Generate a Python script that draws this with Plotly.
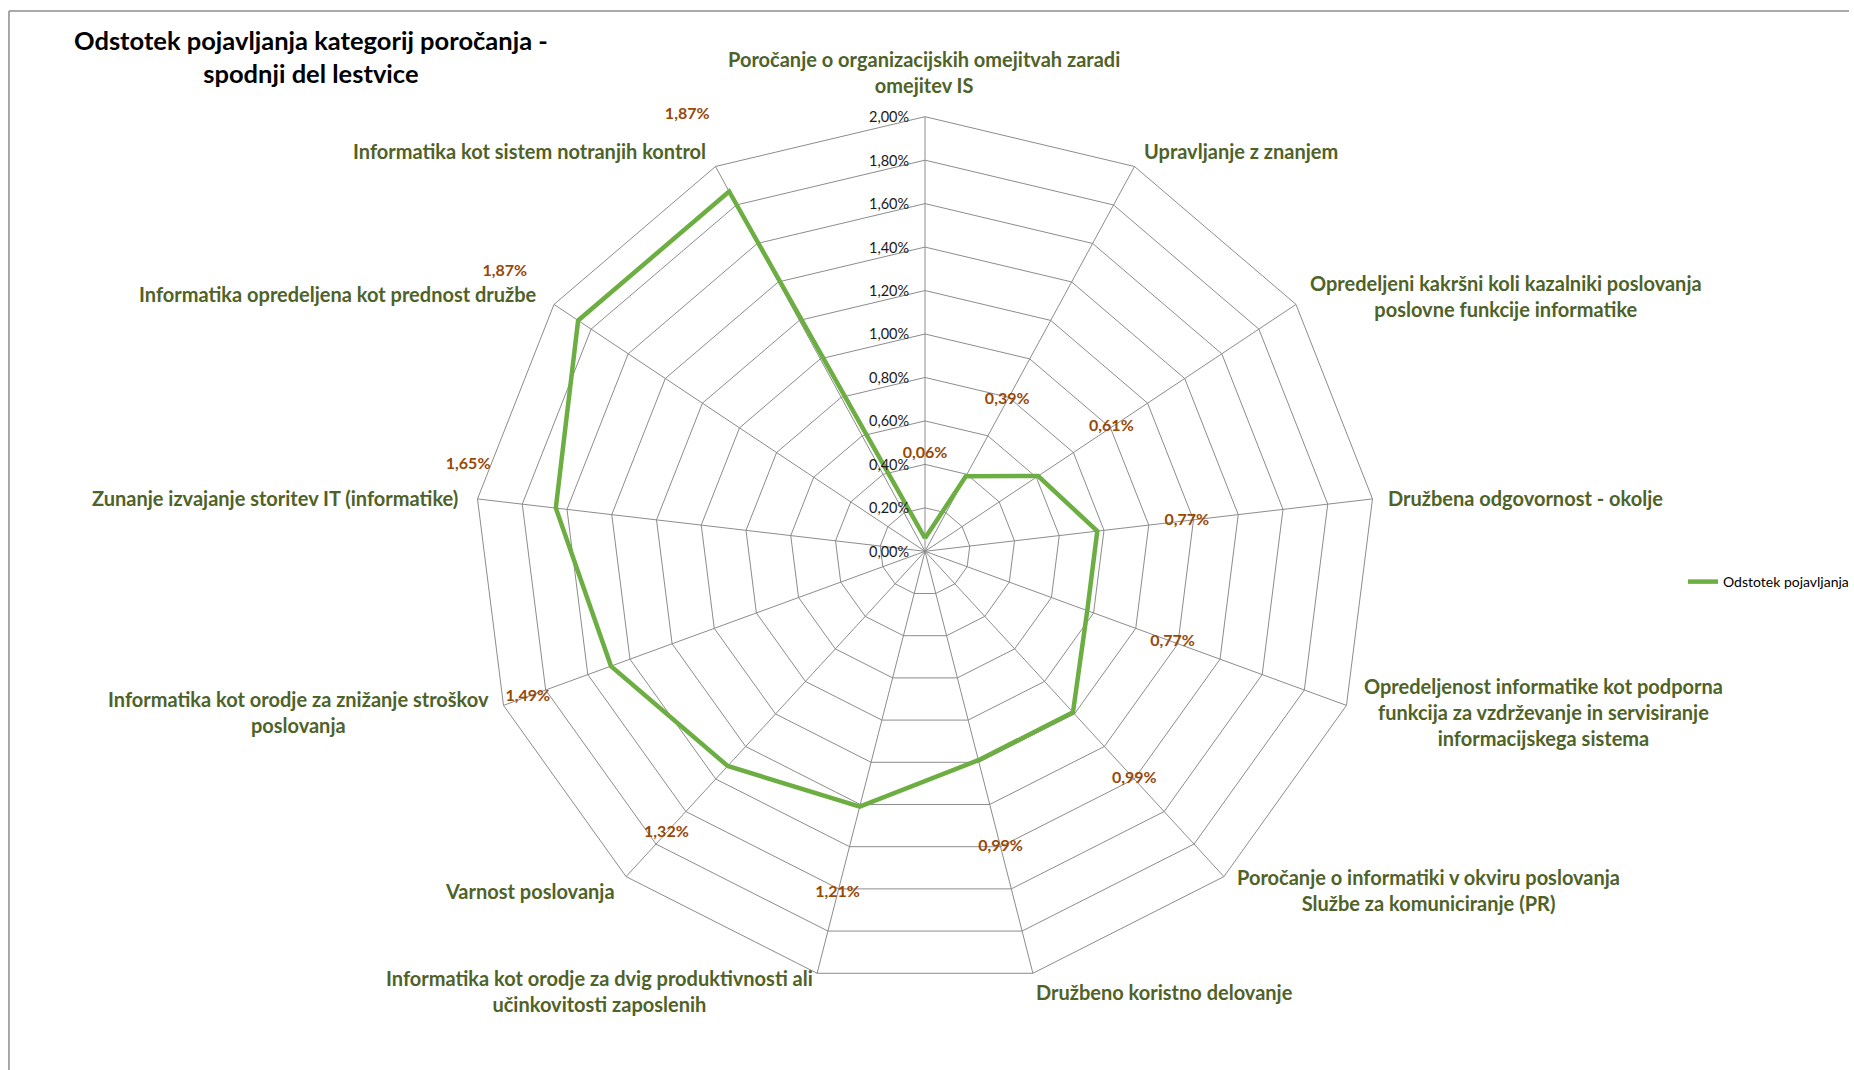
import math
import plotly.graph_objects as go

# ---------------- data ----------------
categories = [
    "Poročanje o organizacijskih omejitvah zaradi omejitev IS",
    "Upravljanje z znanjem",
    "Opredeljeni kakršni koli kazalniki poslovanja poslovne funkcije informatike",
    "Družbena odgovornost - okolje",
    "Opredeljenost informatike kot podporna funkcija za vzdrževanje in servisiranje informacijskega sistema",
    "Poročanje o informatiki v okviru poslovanja Službe za komuniciranje (PR)",
    "Družbeno koristno delovanje",
    "Informatika kot orodje za dvig produktivnosti ali učinkovitosti zaposlenih",
    "Varnost poslovanja",
    "Informatika kot orodje za znižanje stroškov poslovanja",
    "Zunanje izvajanje storitev IT (informatike)",
    "Informatika opredeljena kot prednost družbe",
    "Informatika kot sistem notranjih kontrol",
]
category_labels = [
    "Poročanje o organizacijskih omejitvah zaradi<br>omejitev IS",
    "Upravljanje z znanjem",
    "Opredeljeni kakršni koli kazalniki poslovanja<br>poslovne funkcije informatike",
    "Družbena odgovornost - okolje",
    "Opredeljenost informatike kot podporna<br>funkcija za vzdrževanje in servisiranje<br>informacijskega sistema",
    "Poročanje o informatiki v okviru poslovanja<br>Službe za komuniciranje (PR)",
    "Družbeno koristno delovanje",
    "Informatika kot orodje za dvig produktivnosti ali<br>učinkovitosti zaposlenih",
    "Varnost poslovanja",
    "Informatika kot orodje za znižanje stroškov<br>poslovanja",
    "Zunanje izvajanje storitev IT (informatike)",
    "Informatika opredeljena kot prednost družbe",
    "Informatika kot sistem notranjih kontrol",
]
values = [0.06, 0.39, 0.61, 0.77, 0.77, 0.99, 0.99, 1.21, 1.32, 1.49, 1.65, 1.87, 1.87]
radial_ticks = [0.0, 0.2, 0.4, 0.6, 0.8, 1.0, 1.2, 1.4, 1.6, 1.8, 2.0]
radial_tick_labels = ["0,00%", "0,20%", "0,40%", "0,60%", "0,80%", "1,00%",
                      "1,20%", "1,40%", "1,60%", "1,80%", "2,00%"]
series_name = "Odstotek pojavljanja"
title_text = "Odstotek pojavljanja kategorij poročanja -<br>spodnji del lestvice"

# value-label placement (radius in axis units, angular shift in degrees)
label_r = [0.45, 0.785, 1.005, 1.17, 1.175, 1.40, 1.40, 1.62, 1.73, 1.885, 2.065, 2.265, 2.27]
label_dtheta = [0, 0, 0, 0, 0, 0, 0, 0, 0, 0, 4.1, 0, 0]

# category label text centres (pixels in the 1854x1070 page)
cat_label_px = [
    (926, 72), (1244, 151), (1510, 296), (1530, 498), (1548, 712),
    (1432, 890), (1168, 992), (601, 991), (531, 891), (299, 712),
    (276, 498), (339, 294), (531, 151),
]

# ---------------- layout geometry ----------------
W, H = 1854, 1070
CX, CY = 927.5, 551.3     # chart centre (px)
RX, RY = 452.0, 434.6     # outer radius horizontally / vertically (px)
RMAX = 2.0
X_RANGE = [-2.4, 2.4]     # padded so outer labels stay inside the axes
Y_RANGE = [-2.2, 2.4]

def to_paper(px, py):
    return px / W, 1 - py / H

GREEN_TXT = "#4F6228"
BROWN = "#984807"
LINE_GREEN = "#6DAE43"
GRID = "#8C8C8C"
FONT = "Lato"

n = len(categories)
angles = [math.radians(i * 360.0 / n) for i in range(n)]

def polar_xy(r, a):
    return r * math.sin(a), r * math.cos(a)

fig = go.Figure()

# polygon grid rings
gx, gy = [], []
for t in radial_ticks[1:]:
    for a in angles + angles[:1]:
        x, y = polar_xy(t, a)
        gx.append(x); gy.append(y)
    gx.append(None); gy.append(None)
fig.add_trace(go.Scatter(x=gx, y=gy, mode="lines", line=dict(color=GRID, width=1),
                         hoverinfo="skip", showlegend=False, cliponaxis=False))

# spokes
sx, sy = [], []
for a in angles:
    x, y = polar_xy(RMAX, a)
    sx += [0, x, None]; sy += [0, y, None]
fig.add_trace(go.Scatter(x=sx, y=sy, mode="lines", line=dict(color=GRID, width=1),
                         hoverinfo="skip", showlegend=False, cliponaxis=False))

# data series
dx, dy = [], []
for v, a in zip(values + values[:1], angles + angles[:1]):
    x, y = polar_xy(v, a)
    dx.append(x); dy.append(y)
fig.add_trace(go.Scatter(x=dx, y=dy, mode="lines", name=series_name,
                         line=dict(color=LINE_GREEN, width=4.5),
                         showlegend=True, cliponaxis=False))

# value labels
lx, ly, lt = [], [], []
for v, lr, dt, a in zip(values, label_r, label_dtheta, angles):
    x, y = polar_xy(lr, a + math.radians(dt))
    lx.append(x); ly.append(y)
    lt.append(f"<b>{v:.2f}%</b>".replace(".", ","))
fig.add_trace(go.Scatter(x=lx, y=ly, mode="text", text=lt, textposition="middle center",
                         textfont=dict(family=FONT, size=16, color=BROWN),
                         hoverinfo="skip", showlegend=False, cliponaxis=False))

annotations = []
for lab, (px, py) in zip(category_labels, cat_label_px):
    x, y = to_paper(px, py)
    annotations.append(dict(
        x=x, y=y, xref="paper", yref="paper", showarrow=False,
        text=f"<b>{lab}</b>", align="center",
        font=dict(family=FONT, size=20, color=GREEN_TXT),
        xanchor="center", yanchor="middle",
    ))

# radial tick labels (left of the vertical spoke)
for t, lab in zip(radial_ticks, radial_tick_labels):
    x, y = to_paper(CX - 14, CY - t / RMAX * RY)
    annotations.append(dict(
        x=x, y=y, xref="paper", yref="paper", showarrow=False,
        text=lab, font=dict(family=FONT, size=14.5, color="#1a1a1a"),
        xanchor="right", yanchor="middle",
    ))

tx, ty = to_paper(312, 57)
annotations.append(dict(
    x=tx, y=ty, xref="paper", yref="paper", showarrow=False,
    text=f"<b>{title_text}</b>", align="center",
    font=dict(family=FONT, size=25.5, color="#000000"),
    xanchor="center", yanchor="middle",
))

# axis domains so that RMAX maps to RX / RY pixels around (CX, CY)
x_dom = [(CX + X_RANGE[0] / RMAX * RX) / W, (CX + X_RANGE[1] / RMAX * RX) / W]
y_dom = [1 - (CY - Y_RANGE[0] / RMAX * RY) / H, 1 - (CY - Y_RANGE[1] / RMAX * RY) / H]

fig.update_layout(
    width=W, height=H,
    margin=dict(l=0, r=0, t=0, b=0),
    paper_bgcolor="white",
    plot_bgcolor="rgba(0,0,0,0)",
    font=dict(family=FONT, color="#000000"),
    xaxis=dict(visible=False, range=X_RANGE, domain=x_dom),
    yaxis=dict(visible=False, range=Y_RANGE, domain=y_dom),
    showlegend=True,
    legend=dict(
        x=1688 / W, y=1 - 582 / H, xanchor="left", yanchor="middle",
        font=dict(family=FONT, size=14, color="#000000"),
        bgcolor="rgba(0,0,0,0)",
    ),
    annotations=annotations,
    shapes=[
        dict(type="line", xref="paper", yref="paper",
             x0=9 / W, x1=1.0, y0=1 - 11 / H, y1=1 - 11 / H,
             line=dict(color="#8C8C8C", width=1.5)),
        dict(type="line", xref="paper", yref="paper",
             x0=9 / W, x1=9 / W, y0=0, y1=1 - 11 / H,
             line=dict(color="#8C8C8C", width=1.5)),
    ],
)

fig.write_html("out.html")
